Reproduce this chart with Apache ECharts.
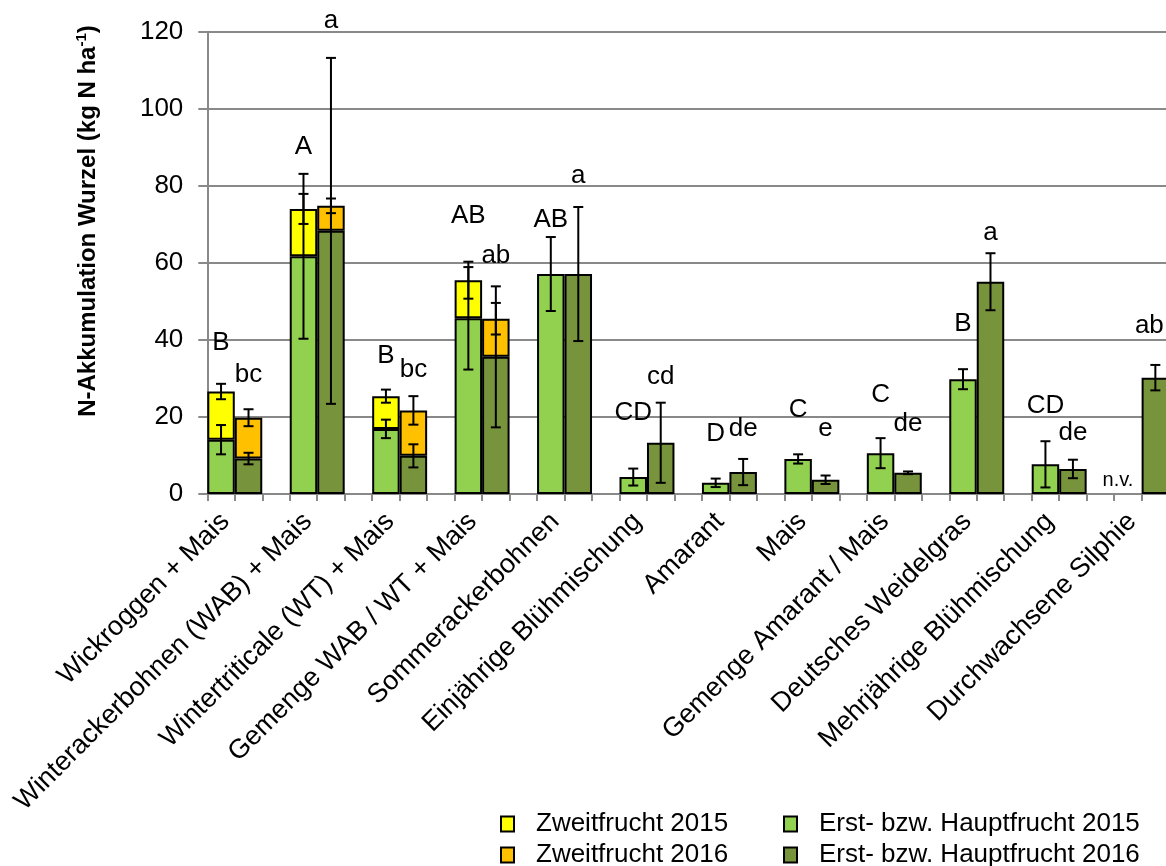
<!DOCTYPE html>
<html>
<head>
<meta charset="utf-8">
<script src="https://cdn.jsdelivr.net/npm/echarts@6/dist/echarts.min.js"></script>
<style>
  html, body { margin: 0; padding: 0; background: #fff; }
  #chart { width: 1166px; height: 866px; }
</style>
</head>
<body>
<div id="chart"></div>
<script>
// Crop variants (one group of bars per variant)
const categories = [
  'Wickroggen + Mais',
  'Winterackerbohnen (WAB) + Mais',
  'Wintertriticale (WT) + Mais',
  'Gemenge WAB / WT + Mais',
  'Sommerackerbohnen',
  'Einjährige Blühmischung',
  'Amarant',
  'Mais',
  'Gemenge Amarant / Mais',
  'Deutsches Weidelgras',
  'Mehrjährige Blühmischung',
  'Durchwachsene Silphie'
];

// Root N accumulation (kg N/ha); null = not available
const haupt2015    = [14.1, 61.7, 16.9, 45.6, 57.1, 4.4, 2.9, 9.1, 10.6, 29.8, 7.7, null];
const haupt2015Err = [3.8, 21.4, 2.4, 13.3, 9.6, 2.2, 1.1, 1.2, 3.9, 2.6, 6.0, null];
const zweit2015    = [12.5, 12.3, 8.5, 9.9, null, null, null, null, null, null, null, null];
const zweit2015Err = [2.0, 3.9, 1.7, 4.8, null, null, null, null, null, null, null, null];

const haupt2016    = [9.2, 68.3, 9.9, 35.6, 57.1, 13.3, 5.7, 3.7, 5.5, 55.1, 6.5, 30.2];
const haupt2016Err = [1.5, 44.9, 3.0, 18.3, 17.4, 10.4, 3.4, 1.1, 0.35, 7.4, 2.4, 3.3];
const zweit2016    = [10.6, 6.5, 11.8, 9.9, null, null, null, null, null, null, null, null];
const zweit2016Err = [2.2, 1.9, 3.7, 4.1, null, null, null, null, null, null, null, null];

// Significance letters and the heights (kg N/ha) at which they sit
const letters2015 = ['B', 'A', 'B', 'AB', 'AB', 'CD', 'D', 'C', 'C', 'B', 'CD', 'n.v.'];
const letterY2015 = [39.9, 90.8, 36.5, 72.8, 71.9, 21.8, 16.2, 22.6, 26.5, 44.7, 23.5, 4.2];
const letters2016 = ['bc', 'a', 'bc', 'ab', 'a', 'cd', 'de', 'e', 'de', 'a', 'de', 'ab'];
const letterY2016 = [31.6, 123.4, 32.8, 62.6, 83.3, 31.1, 17.6, 17.6, 18.8, 68.4, 16.6, 44.3];

const yTicks = { min: 0, max: 120, interval: 20 };

const FONT = 'Liberation Sans, Arial, sans-serif';
const SLOTS_PER_GROUP = 3; // bar 2015, bar 2016, gap
const nSlots = categories.length * SLOTS_PER_GROUP;

// horizontal nudges (px) for a few letters kept clear of the right edge
const letterNudge = { '11-0': -10, '11-1': -6 };
const LETTER_DY = 2.5; // baseline correction for centred glyphs

function slotData(values, offset) {
  const arr = new Array(nSlots).fill('-');
  values.forEach((v, i) => { if (v != null) arr[i * SLOTS_PER_GROUP + offset] = v; });
  return arr;
}

// error bars: [slot, centre, halfRange]
const errItems = [];
categories.forEach((c, i) => {
  const s15 = i * SLOTS_PER_GROUP, s16 = s15 + 1;
  if (haupt2015[i] != null) errItems.push([s15, haupt2015[i], haupt2015Err[i]]);
  if (zweit2015[i] != null) errItems.push([s15, haupt2015[i] + zweit2015[i], zweit2015Err[i]]);
  if (haupt2016[i] != null) errItems.push([s16, haupt2016[i], haupt2016Err[i]]);
  if (zweit2016[i] != null) errItems.push([s16, haupt2016[i] + zweit2016[i], zweit2016Err[i]]);
});

const letterItems = [];
categories.forEach((c, i) => {
  const s15 = i * SLOTS_PER_GROUP;
  letterItems.push({ value: [s15, letterY2015[i]], text: letters2015[i], dx: letterNudge[i + '-0'] || 0 });
  letterItems.push({ value: [s15 + 1, letterY2016[i]], text: letters2016[i], dx: letterNudge[i + '-1'] || 0 });
});

const GRID_LEFT = 207.3;
const SLOT_W = 27.48;
const GRID_W = SLOT_W * nSlots;
const GRID_TOP = 31.7;
const GRID_BOTTOM = 866 - 494;

const barStyle = (color) => ({ color: color, borderColor: '#000', borderWidth: 2 });

const chart = echarts.init(document.getElementById('chart'), null, { renderer: 'canvas' });

// one legend block per entry, laid out as two columns of two rows
function legendEntry(name, left, top) {
  return {
    data: [name], left: left, top: top, padding: 0,
    itemWidth: 13, itemHeight: 15, icon: 'rect',
    textStyle: { fontSize: 26, color: '#000', fontFamily: FONT, padding: [0, 0, 0, 17] }
  };
}

const option = {
  animation: false,
  backgroundColor: '#fff',
  textStyle: { fontFamily: FONT },
  grid: [
    { left: GRID_LEFT, top: GRID_TOP, width: GRID_W, bottom: GRID_BOTTOM, containLabel: false, outerBoundsMode: 'none' },
    { left: GRID_LEFT - SLOT_W / 2, top: GRID_TOP, width: GRID_W, bottom: GRID_BOTTOM, containLabel: false, outerBoundsMode: 'none' }
  ],
  xAxis: [
    {
      type: 'category', gridIndex: 0,
      data: new Array(nSlots).fill(''),
      boundaryGap: true,
      axisLine: { lineStyle: { color: '#898989', width: 2 } },
      axisTick: { show: true, interval: 0, length: 7, lineStyle: { color: '#898989', width: 2 } },
      axisLabel: { show: false }
    },
    {
      type: 'category', gridIndex: 1,
      data: categories,
      boundaryGap: true,
      axisLine: { show: false },
      axisTick: { show: false },
      axisLabel: {
        interval: 0, rotate: 45, margin: 33, verticalAlign: 'bottom',
        fontSize: 27, color: '#000', fontFamily: FONT
      }
    }
  ],
  yAxis: [
    {
      type: 'value', gridIndex: 0,
      min: yTicks.min, max: yTicks.max, interval: yTicks.interval,
      axisLine: { show: true, lineStyle: { color: '#898989', width: 2 } },
      axisTick: { show: true, length: 9, lineStyle: { color: '#898989', width: 2 } },
      axisLabel: { margin: 24, fontSize: 26, color: '#000', fontFamily: FONT },
      splitLine: { show: true, lineStyle: { color: '#898989', width: 2 } }
    },
    {
      type: 'value', gridIndex: 1, min: 0, max: 120, show: false
    }
  ],
  legend: [
    legendEntry('Zweitfrucht 2015', 500, 811),
    legendEntry('Zweitfrucht 2016', 500, 842),
    legendEntry('Erst- bzw. Hauptfrucht 2015', 783, 811),
    legendEntry('Erst- bzw. Hauptfrucht 2016', 783, 842)
  ],
  graphic: [
    {
      type: 'text', x: 88, y: 221, rotation: Math.PI / 2,
      style: {
        text: '{t|N-Akkumulation Wurzel (kg N ha}{s|-1}{t|)}',
        align: 'center', verticalAlign: 'middle',
        rich: {
          t: { fontSize: 24, fontWeight: 'bold', fontFamily: FONT, fill: '#000', lineHeight: 28 },
          s: { fontSize: 15, fontWeight: 'bold', fontFamily: FONT, fill: '#000', verticalAlign: 'top', lineHeight: 28, padding: [0, 0, 8, 0] }
        }
      }
    }
  ],
  series: [
    {
      name: 'Erst- bzw. Hauptfrucht 2015', type: 'bar', stack: 'n',
      xAxisIndex: 0, yAxisIndex: 0, barWidth: '100%',
      itemStyle: barStyle('#92D050'), data: slotData(haupt2015, 0)
    },
    {
      name: 'Zweitfrucht 2015', type: 'bar', stack: 'n',
      xAxisIndex: 0, yAxisIndex: 0, barWidth: '100%',
      itemStyle: barStyle('#FFFF00'), data: slotData(zweit2015, 0)
    },
    {
      name: 'Erst- bzw. Hauptfrucht 2016', type: 'bar', stack: 'n',
      xAxisIndex: 0, yAxisIndex: 0, barWidth: '100%',
      itemStyle: barStyle('#77933C'), data: slotData(haupt2016, 1)
    },
    {
      name: 'Zweitfrucht 2016', type: 'bar', stack: 'n',
      xAxisIndex: 0, yAxisIndex: 0, barWidth: '100%',
      itemStyle: barStyle('#FFC000'), data: slotData(zweit2016, 1)
    },
    {
      name: 'errors', type: 'custom', xAxisIndex: 0, yAxisIndex: 0, z: 5,
      data: errItems,
      renderItem: function (params, api) {
        const x = api.value(0), c = api.value(1), e = api.value(2);
        const top = api.coord([x, c + e]);
        const bot = api.coord([x, c - e]);
        const hw = 5;
        const st = { stroke: '#000', lineWidth: 2 };
        return {
          type: 'group',
          children: [
            { type: 'line', shape: { x1: top[0], y1: top[1], x2: bot[0], y2: bot[1] }, style: st },
            { type: 'line', shape: { x1: top[0] - hw, y1: top[1], x2: top[0] + hw, y2: top[1] }, style: st },
            { type: 'line', shape: { x1: bot[0] - hw, y1: bot[1], x2: bot[0] + hw, y2: bot[1] }, style: st }
          ]
        };
      }
    },
    {
      name: 'letters', type: 'custom', xAxisIndex: 0, yAxisIndex: 0, z: 6,
      data: letterItems.map(d => d.value),
      renderItem: function (params, api) {
        const item = letterItems[params.dataIndex];
        const p = api.coord([api.value(0), api.value(1)]);
        const isNv = item.text === 'n.v.';
        return {
          type: 'text',
          x: p[0] + item.dx, y: p[1] + LETTER_DY,
          style: {
            text: item.text,
            fontSize: isNv ? 20 : 26, fontFamily: FONT, fill: '#000',
            align: 'center', verticalAlign: 'middle'
          }
        };
      }
    }
  ]
};

chart.setOption(option);
</script>
</body>
</html>
